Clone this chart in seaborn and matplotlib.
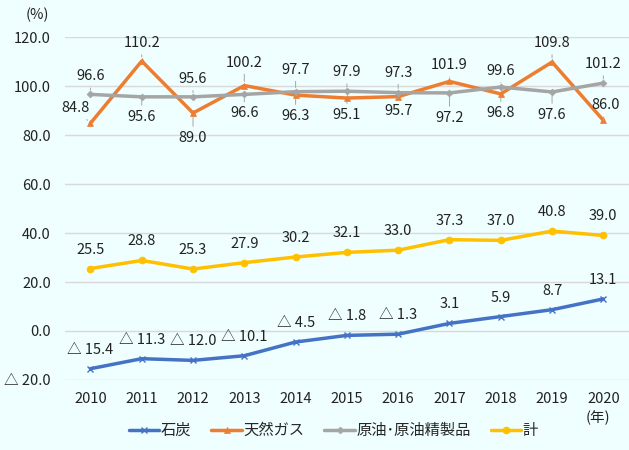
import pandas as pd
import matplotlib
matplotlib.use("Agg")
import matplotlib.pyplot as plt
import seaborn as sns

years = ["2010", "2011", "2012", "2013", "2014", "2015", "2016", "2017", "2018", "2019", "2020"]
coal = [-15.4, -11.3, -12.0, -10.1, -4.5, -1.8, -1.3, 3.1, 5.9, 8.7, 13.1]
gas = [84.8, 110.2, 89.0, 100.2, 96.3, 95.1, 95.7, 101.9, 96.8, 109.8, 86.0]
oil = [96.6, 95.6, 95.6, 96.6, 97.7, 97.9, 97.3, 97.2, 99.6, 97.6, 101.2]
total = [25.5, 28.8, 25.3, 27.9, 30.2, 32.1, 33.0, 37.3, 37.0, 40.8, 39.0]
names = ["石炭", "天然ガス", "原油･原油精製品", "計"]

sns.set_theme(style="white")
plt.rcParams['font.family'] = ['Noto Sans CJK JP', 'DejaVu Sans']

bg = "#effefe"
fig = plt.figure(figsize=(6.29, 4.5), dpi=100, facecolor=bg)
ax = fig.add_axes([0.103, 0.1556, 0.897, 0.762])
ax.set_facecolor(bg)

df = pd.DataFrame({"x": range(len(years)), names[0]: coal, names[1]: gas,
                   names[2]: oil, names[3]: total})

styles = {
    names[0]: dict(color="#4472C4", marker="x", markersize=5, mew=1.0),
    names[1]: dict(color="#ED7D31", marker="^", markersize=5),
    names[2]: dict(color="#A5A5A5", marker="D", markersize=3.5),
    names[3]: dict(color="#FFC000", marker="o", markersize=5),
}
for n in names:
    st = styles[n]
    sns.lineplot(data=df, x="x", y=n, ax=ax, color=st["color"], linewidth=2.5,
                 marker=st["marker"], markersize=st["markersize"],
                 markeredgecolor=st["color"], markeredgewidth=st.get("mew", 0.5),
                 label=n, zorder=3)

def fmt(v):
    return f"△ {abs(v):.1f}" if v < 0 else f"{v:.1f}"

# label offsets in pixels (dx, dy)
gas_off = [(-15, 15), (0, 18), (0, -25), (0, 23), (0, -21), (0, -17),
           (0, -14), (0, 16), (0, -19), (0, 19), (2, 15)]
oil_off = [(0, 18), (0, -20), (0, 18), (0, -19), (0, 22), (0, 19),
           (0, 20), (0, -25), (0, 16), (0, -23), (0, 19)]

def label(vals, offs, leader=False):
    for i, (v, (dx, dy)) in enumerate(zip(vals, offs)):
        kw = {}
        if leader:
            kw["arrowprops"] = dict(arrowstyle="-", color="#A5A5A5", lw=0.7,
                                    shrinkA=1, shrinkB=3)
        ax.annotate(fmt(v), xy=(i, v), xytext=(dx, dy), textcoords="offset pixels",
                    ha="center", va="center", fontsize=10.5, color="#222222",
                    zorder=5, **kw)

label(gas, gas_off, leader=True)
label(oil, oil_off, leader=True)
label(coal, [(0, 19)] * len(coal))
label(total, [(0, 19)] * len(total))

ax.set_xlim(-0.5, len(years) - 0.5)
ax.set_ylim(-20, 120)
ax.set_yticks(range(-20, 121, 20))
ax.set_yticklabels([fmt(t) for t in range(-20, 121, 20)], fontsize=10.5, color="#222222")
ax.set_xticks(range(len(years)))
ax.set_xticklabels(years, fontsize=10.5, color="#222222")
ax.tick_params(axis="y", length=0, pad=10)
ax.tick_params(axis="x", length=0, pad=9)
ax.grid(axis="y", color="#D9D9D9", linewidth=1)
ax.set_axisbelow(True)
for s in ax.spines.values():
    s.set_visible(False)
ax.set_xlabel("")
ax.set_ylabel("")

fig.text(0.059, 0.967, "(%)", ha="center", va="center", fontsize=10.5, color="#222222")
fig.text(0.951, 0.071, "(年)", ha="center", va="center", fontsize=10.5, color="#222222")

ax.get_legend().remove()
handles, labels = ax.get_legend_handles_labels()
fig.legend(handles, labels, loc="center", bbox_to_anchor=(0.53, 0.043), ncol=4,
           frameon=False, fontsize=11, handlelength=2.0, columnspacing=1.3,
           handletextpad=0.1)

fig.savefig("out.png", dpi=100, facecolor=bg)
